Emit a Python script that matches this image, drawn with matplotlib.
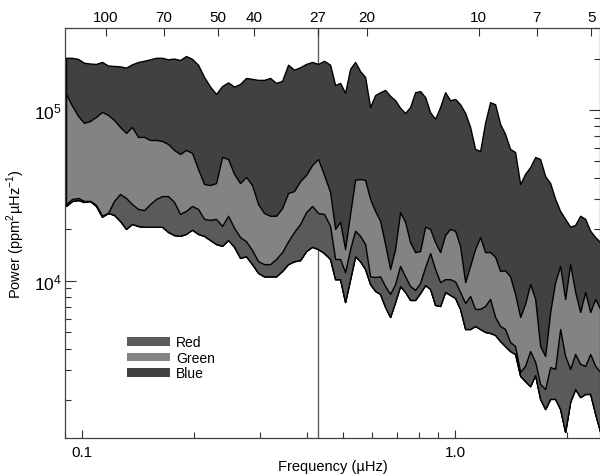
import numpy as np
import matplotlib
matplotlib.use("Agg")
import matplotlib.pyplot as plt
from matplotlib.patches import Patch
from matplotlib.ticker import LogLocator, NullFormatter, FixedLocator, FixedFormatter

plt.rcParams['font.family'] = ['Liberation Sans', 'DejaVu Sans']
plt.rcParams['mathtext.fontset'] = 'custom'
plt.rcParams['mathtext.rm'] = 'Liberation Sans'

# Fréquences (µHz)
freq = [0.0906, 0.0940, 0.0976, 0.1012, 0.1051, 0.1090, 0.1131, 0.1174, 0.1218, 0.1264,
        0.1312, 0.1361, 0.1413, 0.1466, 0.1522, 0.1579, 0.1638, 0.1700, 0.1765, 0.1831,
        0.1900, 0.1972, 0.2046, 0.2124, 0.2204, 0.2287, 0.2373, 0.2463, 0.2556, 0.2652,
        0.2752, 0.2856, 0.2964, 0.3075, 0.3192, 0.3312, 0.3437, 0.3567, 0.3702, 0.3842,
        0.3986, 0.4137, 0.4293, 0.4455, 0.4623,
        0.4768, 0.4917, 0.5071, 0.5230, 0.5394, 0.5563, 0.5738, 0.5917, 0.6103, 0.6294,
        0.6491, 0.6695, 0.6905, 0.7121, 0.7345, 0.7575, 0.7813, 0.8057, 0.8310, 0.8570,
        0.8839, 0.9116, 0.9401, 0.9696, 1.000, 1.031, 1.064, 1.097, 1.131, 1.167,
        1.203, 1.241, 1.280, 1.320, 1.361, 1.404, 1.448, 1.494, 1.540, 1.589,
        1.639, 1.690, 1.743, 1.798, 1.854, 1.912, 1.972, 2.034, 2.098, 2.164,
        2.232, 2.302, 2.374, 2.448]

# Puissance (ppm^2/µHz) : bord supérieur de chaque canal
blue_top = [2.02e5, 2.02e5, 1.99e5, 1.89e5, 1.87e5, 1.86e5, 1.91e5, 1.82e5, 1.81e5, 1.80e5,
            1.77e5, 1.85e5, 1.91e5, 1.94e5, 1.98e5, 2.02e5, 2.02e5, 1.98e5, 2.00e5, 1.96e5,
            2.07e5, 1.99e5, 1.84e5, 1.56e5, 1.37e5, 1.24e5, 1.38e5, 1.45e5, 1.37e5, 1.42e5,
            1.54e5, 1.52e5, 1.50e5, 1.50e5, 1.54e5, 1.44e5, 1.48e5, 1.84e5, 1.72e5, 1.78e5,
            1.86e5, 1.91e5, 1.86e5, 1.94e5, 1.84e5,
            1.40e5, 1.44e5, 1.26e5, 1.74e5, 1.91e5, 1.69e5, 1.56e5, 1.04e5, 1.22e5, 1.27e5,
            1.31e5, 1.21e5, 1.14e5, 1.03e5, 9.6e4, 1.04e5, 1.27e5, 1.29e5, 1.19e5, 9.7e4,
            8.86e4, 1.04e5, 1.27e5, 1.14e5, 1.16e5, 1.08e5, 9.6e4, 7.95e4, 5.91e4, 5.75e4,
            8.4e4, 1.11e5, 1.08e5, 8.28e4, 7.24e4, 5.91e4, 5.67e4, 3.68e4, 4.22e4, 4.63e4,
            5.30e4, 5.16e4, 4.10e4, 3.73e4, 3.01e4, 2.56e4, 2.30e4, 2.07e4, 2.12e4, 2.40e4,
            2.30e4, 1.96e4, 1.80e4, 1.68e4]

green_top = [1.24e5, 1.06e5, 9.22e4, 8.4e4, 8.62e4, 9.1e4, 9.73e4, 9.35e4, 8.74e4, 7.95e4,
             7.34e4, 7.95e4, 6.95e4, 6.95e4, 6.67e4, 6.67e4, 6.58e4, 6.32e4, 5.83e4, 5.52e4,
             5.83e4, 5.60e4, 4.51e4, 3.68e4, 3.63e4, 3.73e4, 5.30e4, 5.16e4, 4.22e4, 3.73e4,
             4.05e4, 3.63e4, 2.81e4, 2.49e4, 2.40e4, 2.40e4, 2.66e4, 3.26e4, 3.35e4, 3.83e4,
             4.16e4, 4.76e4, 5.16e4, 4.16e4, 3.31e4,
             2.01e4, 2.21e4, 1.53e4, 2.46e4, 3.89e4, 3.94e4, 3.89e4, 3.01e4, 2.56e4, 2.24e4,
             1.64e4, 1.17e4, 1.53e4, 2.52e4, 2.21e4, 1.68e4, 1.47e4, 1.49e4, 2.07e4, 2.01e4,
             1.68e4, 1.47e4, 1.85e4, 2.01e4, 1.96e4, 1.60e4, 9.8e3, 1.22e4, 1.53e4, 1.80e4,
             1.47e4, 1.47e4, 1.38e4, 1.14e4, 1.15e4, 1.06e4, 8.36e3, 6.13e3, 7.30e3, 9.56e3,
             7.81e3, 4.14e3, 3.62e3, 6.55e3, 9.8e3, 1.22e4, 7.81e3, 1.25e4, 8.59e3, 6.55e3,
             8.59e3, 6.55e3, 7.81e3, 6.83e3]

red_top = [2.81e4, 3.01e4, 3.05e4, 2.93e4, 2.93e4, 2.78e4, 2.40e4, 2.49e4, 2.93e4, 3.22e4,
           3.05e4, 2.81e4, 2.63e4, 2.59e4, 2.81e4, 3.01e4, 3.13e4, 3.13e4, 2.89e4, 2.46e4,
           2.56e4, 2.74e4, 2.63e4, 2.30e4, 2.27e4, 2.30e4, 2.09e4, 2.40e4, 2.04e4, 1.80e4,
           1.70e4, 1.51e4, 1.30e4, 1.25e4, 1.25e4, 1.34e4, 1.47e4, 1.70e4, 1.93e4, 2.15e4,
           2.52e4, 2.74e4, 2.49e4, 2.46e4, 2.09e4,
           1.34e4, 1.34e4, 1.12e4, 1.53e4, 1.96e4, 1.83e4, 1.64e4, 1.06e4, 1.05e4, 1.06e4,
           9.3e3, 8.36e3, 9.56e3, 1.22e4, 1.06e4, 9.3e3, 8.82e3, 9.7e3, 1.20e4, 1.45e4,
           1.17e4, 9.8e3, 1.02e4, 1.02e4, 9.9e3, 8.59e3, 7.40e3, 8.13e3, 6.83e3, 6.83e3,
           7.11e3, 7.81e3, 6.13e3, 5.43e3, 5.21e3, 4.37e3, 4.14e3, 2.92e3, 3.17e3, 3.87e3,
           3.34e3, 2.48e3, 2.32e3, 3.12e3, 3.04e3, 5.21e3, 3.62e3, 3.04e3, 3.72e3, 3.25e3,
           3.17e3, 3.72e3, 3.17e3, 2.92e3]

# bord inférieur commun des bandes
floor = [2.74e4, 2.93e4, 2.97e4, 2.89e4, 2.93e4, 2.74e4, 2.37e4, 2.49e4, 2.43e4, 2.24e4,
         2.01e4, 2.15e4, 2.09e4, 2.07e4, 2.07e4, 2.07e4, 2.07e4, 1.93e4, 1.85e4, 1.83e4,
         1.88e4, 1.99e4, 1.88e4, 1.83e4, 1.73e4, 1.64e4, 1.60e4, 1.73e4, 1.58e4, 1.36e4,
         1.39e4, 1.25e4, 1.11e4, 1.06e4, 1.06e4, 1.06e4, 1.14e4, 1.25e4, 1.30e4, 1.32e4,
         1.49e4, 1.58e4, 1.53e4, 1.45e4, 1.34e4,
         1.02e4, 1.02e4, 7.50e3, 1.02e4, 1.39e4, 1.30e4, 1.17e4, 9.56e3, 8.71e3, 8.36e3,
         7.02e3, 6.13e3, 7.50e3, 9.3e3, 8.59e3, 7.71e3, 7.71e3, 8.47e3, 9.43e3, 8.94e3,
         7.21e3, 7.11e3, 8.59e3, 8.25e3, 7.92e3, 6.83e3, 5.21e3, 5.21e3, 5.43e3, 5.21e3,
         5.01e3, 4.94e3, 4.81e3, 4.43e3, 4.14e3, 3.87e3, 3.72e3, 2.77e3, 2.58e3, 2.41e3,
         2.80e3, 2.03e3, 1.77e3, 2.03e3, 2.03e3, 1.77e3, 1.30e3, 1.95e3, 2.32e3, 2.08e3,
         2.17e3, 2.17e3, 1.66e3, 1.30e3]

# Périodes (jours) de l'axe du haut
periods = [100, 70, 50, 40, 27, 20, 10, 7, 5]
rotation_period = 27

channels = ['Red', 'Green', 'Blue']
colors = {'Red': '#5a5a5a', 'Green': '#838383', 'Blue': '#414141'}

DAY_UHZ = 1e6 / 86400.0  # 1/jour en µHz

fig = plt.figure(figsize=(6.0, 4.77), dpi=100)
ax = fig.add_axes([0.1083, 0.0797, 0.892, 0.8595])

f = np.array(freq)
ax.axvline(DAY_UHZ / rotation_period, color='#606060', lw=1.0, zorder=1)

tops = {'Blue': blue_top, 'Green': green_top, 'Red': red_top}
for name in ['Blue', 'Green', 'Red']:
    ax.fill_between(f, floor, tops[name], facecolor=colors[name], edgecolor='black',
                    linewidth=1.0, zorder=2)

ax.set_xscale('log')
ax.set_yscale('log')
ax.set_xlim(0.0900, 2.448)
ax.set_ylim(1.198e3, 3.02e5)

# axe x du bas
ax.xaxis.set_major_locator(FixedLocator([0.1, 1.0]))
ax.xaxis.set_major_formatter(FixedFormatter(['0.1', '1.0']))
ax.xaxis.set_minor_locator(LogLocator(base=10, subs=np.arange(2, 10)))
ax.xaxis.set_minor_formatter(NullFormatter())

# axe y
ax.yaxis.set_major_locator(FixedLocator([1e4, 1e5]))
ax.yaxis.set_major_formatter(FixedFormatter([r'$\mathregular{10^4}$', r'$\mathregular{10^5}$']))
ax.yaxis.set_minor_locator(LogLocator(base=10, subs=np.arange(2, 10)))
ax.yaxis.set_minor_formatter(NullFormatter())

ax.tick_params(axis='both', which='both', direction='in', top=False, right=True,
               labelsize=11, color='#303030', width=0.8)
ax.tick_params(axis='x', which='major', length=6, pad=5)
ax.tick_params(axis='x', which='minor', length=4)
ax.tick_params(axis='y', which='major', length=8, pad=2)
ax.tick_params(axis='y', which='minor', length=4.5)
ax.tick_params(axis='y', labelsize=12.5)

for s in ax.spines.values():
    s.set_linewidth(0.9)
    s.set_color('#404040')

ax.set_xlabel('Frequency (µHz)', fontsize=10.5, labelpad=0)
ax.set_ylabel(r'Power (ppm$^2$µHz$^{-1}$)', fontsize=10.5, labelpad=5)

# axe du haut : périodes en jours
top = ax.twiny()
top.set_xscale('log')
top.set_xlim(ax.get_xlim())
top.xaxis.set_major_locator(FixedLocator([DAY_UHZ / p for p in periods]))
top.xaxis.set_major_formatter(FixedFormatter([str(p) for p in periods]))
top.xaxis.set_minor_locator(FixedLocator([]))
top.tick_params(axis='x', which='major', direction='in', length=6, labelsize=11,
                pad=3, color='#303030', width=0.8)
for s in top.spines.values():
    s.set_visible(False)

handles = [Patch(facecolor=colors[c], edgecolor='none', label=c) for c in channels]
ax.legend(handles=handles, loc='upper left', bbox_to_anchor=(0.116, 0.250),
          frameon=False, fontsize=10, handlelength=3.1, handleheight=0.57,
          labelspacing=0.1, handletextpad=0.45, borderpad=0, borderaxespad=0)

fig.savefig('out.png', dpi=100)
